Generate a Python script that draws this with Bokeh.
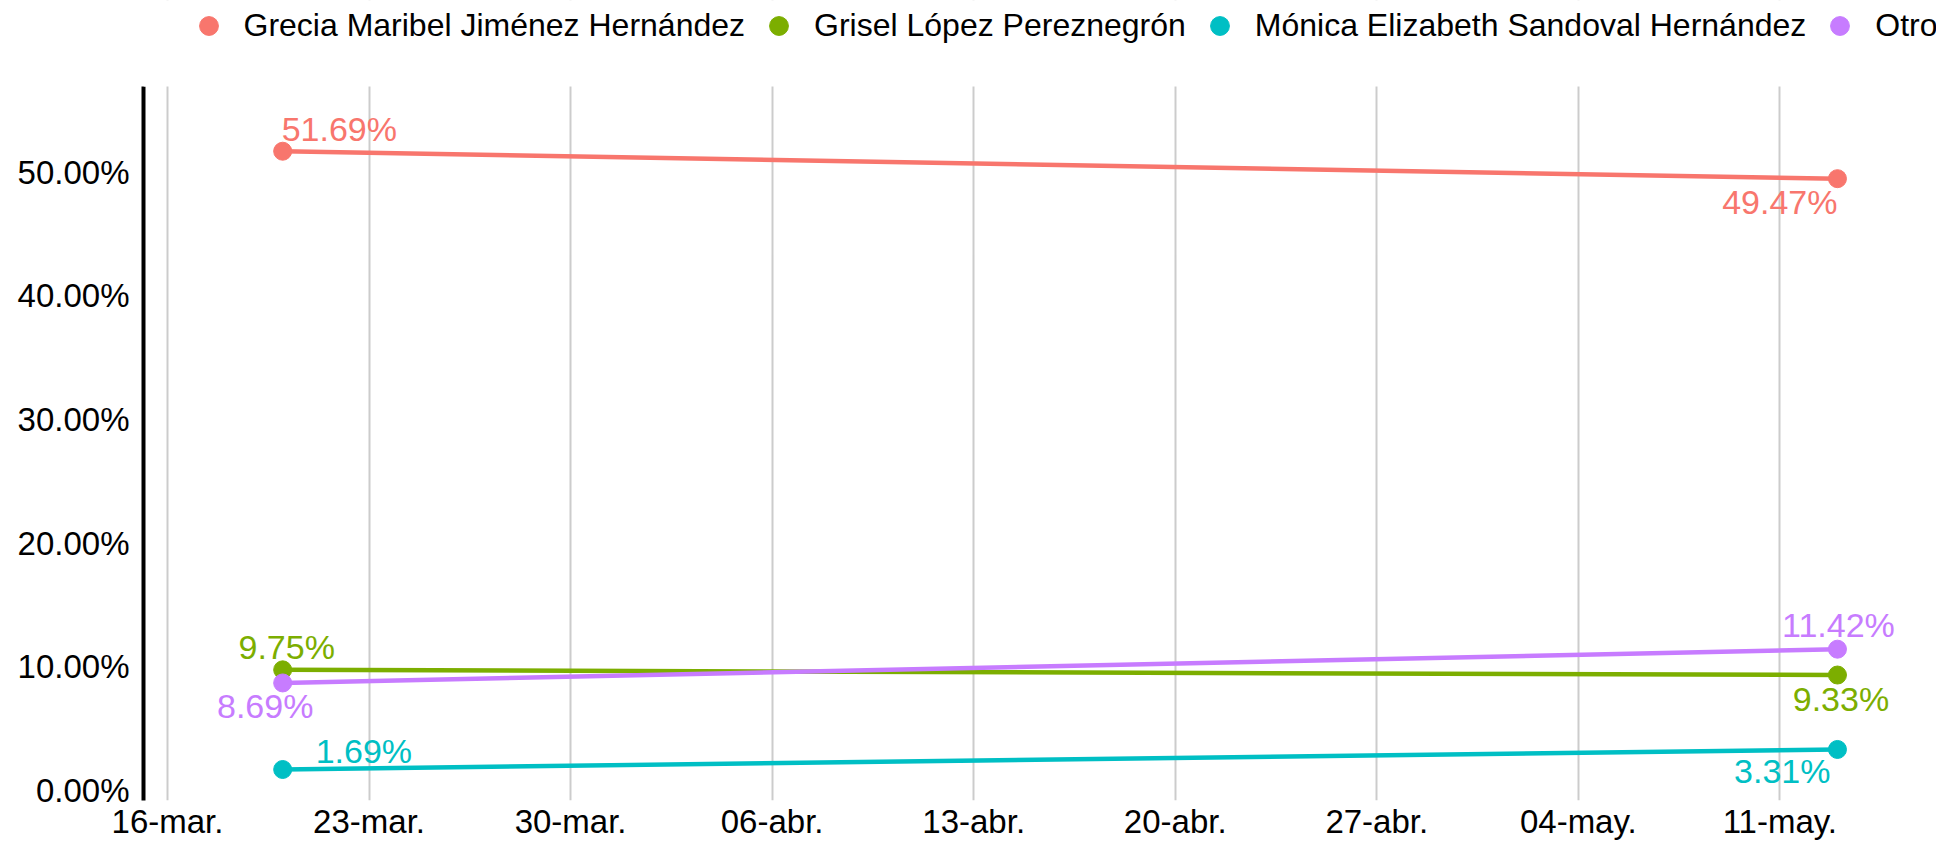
import pandas as pd
from bokeh.plotting import figure
from bokeh.models import (ColumnDataSource, Range1d, FixedTicker, CustomJSTickFormatter,
                          PrintfTickFormatter, Legend, LegendItem, BoxAnnotation)
from bokeh.core.properties import value
from bokeh.embed import file_html
from bokeh.resources import INLINE

# ---------------- data ----------------
fechas = ["2024-03-20", "2024-05-13"]
candidatos = ["Grecia Maribel Jiménez Hernández", "Grisel López Pereznegrón",
              "Mónica Elizabeth Sandoval Hernández", "Otro"]
grecia = [51.69, 49.47]
grisel = [9.75, 9.33]
monica = [1.69, 3.31]
otro = [8.69, 11.42]
series = [grecia, grisel, monica, otro]
colores = ["#F8766D", "#7CAE00", "#00BFC4", "#C77CFF"]

tick_fechas = ["2024-03-16", "2024-03-23", "2024-03-30", "2024-04-06", "2024-04-13",
               "2024-04-20", "2024-04-27", "2024-05-04", "2024-05-11"]
tick_etiquetas = ["16-mar.", "23-mar.", "30-mar.", "06-abr.", "13-abr.",
                  "20-abr.", "27-abr.", "04-may.", "11-may."]
y_ticks = [0, 10, 20, 30, 40, 50]

# label placement (screen px: dx right, dy up of baseline, alignment) for first / last point
label_style = [
    [(-1, 10, "left"), (0, -35, "right")],
    [(4, 11, "center"), (3.5, -36, "center")],
    [(33, 7, "left"), (-7, -34, "right")],
    [(-17.5, -35, "center"), (1, 12, "center")],
]
BASELINE_FIX = 12

FONT = "Liberation Sans"
DAY = 86400000.0

# plotting-area limits (percent) and extra headroom that hosts the legend
Y_LO, Y_HI, Y_HEAD = -0.817, 56.93, 63.88


def ms(s):
    return pd.Timestamp(s).value / 1e6


x_dates = [pd.Timestamp(f) for f in fechas]
tick_ms = [ms(t) for t in tick_fechas]
origin = ms(tick_fechas[0])

p = figure(frame_width=1793, frame_height=800, output_backend="svg", toolbar_location=None,
           x_axis_type="datetime",
           x_range=Range1d(origin - 0.834 * DAY, origin + 61.44 * DAY),
           y_range=Range1d(Y_LO, Y_HEAD),
           min_border_left=143, min_border_right=0, min_border_top=0, min_border_bottom=0)
p.outline_line_color = None
p.background_fill_color = "white"
p.border_fill_color = "white"

p.ygrid.visible = False
p.xgrid.ticker = FixedTicker(ticks=tick_ms)
p.xgrid.grid_line_color = "#cccccc"
p.xgrid.grid_line_width = 2

xa = p.xaxis[0]
xa.ticker = FixedTicker(ticks=tick_ms)
xa.formatter = CustomJSTickFormatter(args=dict(tvals=tick_ms, tlabels=tick_etiquetas), code="""
let best = 0;
for (let i = 0; i < tvals.length; i++) {
  if (Math.abs(tvals[i] - tick) < Math.abs(tvals[best] - tick)) best = i;
}
return tlabels[best];
""")
xa.axis_line_color = None
xa.major_tick_line_color = None
xa.minor_tick_line_color = None
xa.major_tick_out = 0
xa.major_tick_in = 0
xa.minor_tick_out = 0
xa.major_label_text_font = FONT
xa.major_label_text_font_size = "33px"
xa.major_label_text_color = "#000000"
xa.major_label_standoff = 2

ya = p.yaxis[0]
ya.bounds = (Y_LO, Y_HI)
ya.ticker = FixedTicker(ticks=y_ticks)
ya.formatter = PrintfTickFormatter(format="%.2f%%")
ya.axis_line_color = "#000000"
ya.axis_line_width = 4
ya.major_tick_line_color = None
ya.minor_tick_line_color = None
ya.major_tick_out = 0
ya.major_tick_in = 0
ya.minor_tick_out = 0
ya.major_label_text_font = FONT
ya.major_label_text_font_size = "33px"
ya.major_label_text_color = "#000000"
ya.major_label_standoff = 14

items = []
lx, ly, lt, lc, ldx, ldy, lal = [], [], [], [], [], [], []
for name, vals, col, styles in zip(candidatos, series, colores, label_style):
    src = ColumnDataSource(dict(x=x_dates, y=vals))
    p.line("x", "y", source=src, line_color=col, line_width=4.5)
    r = p.scatter("x", "y", source=src, size=18, fill_color=col, line_color=col)
    items.append(LegendItem(label=name, renderers=[r]))
    for xd, v, (dx, dy, al) in zip(x_dates, vals, styles):
        lx.append(xd); ly.append(v); lt.append(f"{v:.2f}%"); lc.append(col)
        ldx.append(dx); ldy.append(-(dy + BASELINE_FIX)); lal.append(al)

lsrc = ColumnDataSource(dict(x=lx, y=ly, t=lt, c=lc, dx=ldx, dy=ldy, al=lal))
p.text("x", "y", text="t", source=lsrc, text_color="c", x_offset="dx", y_offset="dy",
       text_align="al", text_baseline="alphabetic", text_font=value(FONT),
       text_font_size="34px")

# white band above the plotting area (hides grid lines behind the legend)
p.add_layout(BoxAnnotation(bottom=Y_HI, fill_color="white", fill_alpha=1.0,
                           line_color=None, line_alpha=0))

legend = Legend(items=items, orientation="horizontal", location=(41.5, 751.5),
                nrows=1, ncols=4,
                glyph_width=47, glyph_height=47, label_standoff=12, spacing=10,
                padding=0, margin=0, border_line_color=None, background_fill_alpha=0,
                label_text_font=FONT, label_text_font_size="32px",
                label_text_color="#000000")
p.add_layout(legend)

open("out.html", "w").write(file_html(p, INLINE))
